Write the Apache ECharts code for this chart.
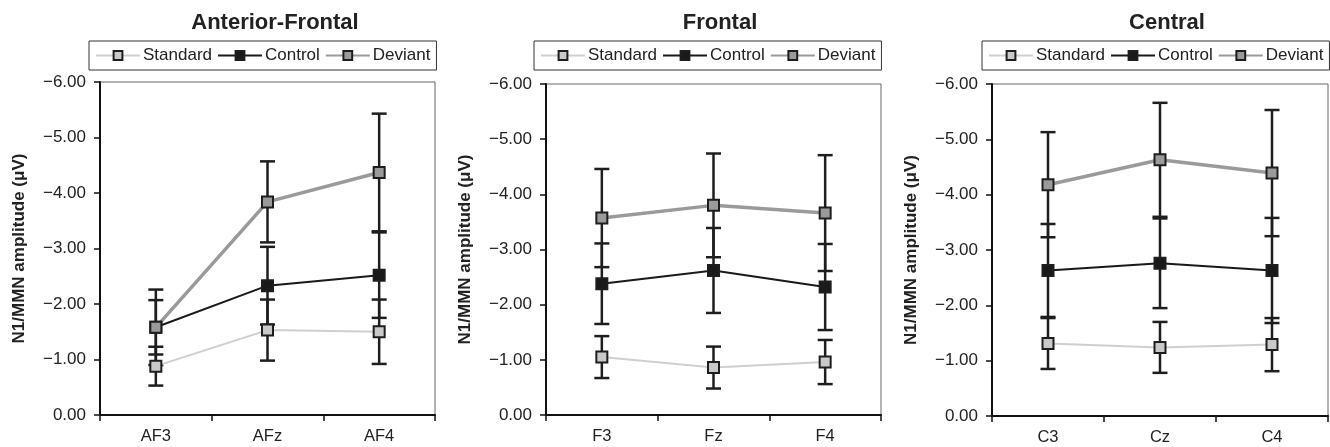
<!DOCTYPE html>
<html>
<head>
<meta charset="utf-8">
<script src="https://cdn.jsdelivr.net/npm/echarts@6/dist/echarts.min.js"></script>
<style>
  html, body { margin: 0; padding: 0; background: #fff; }
  #chart { width: 1330px; height: 447px; }
</style>
</head>
<body>
<div id="chart"></div>
<script>
const panelTitles = ['Anterior-Frontal', 'Frontal', 'Central']
const sites = [['AF3', 'AFz', 'AF4'], ['F3', 'Fz', 'F4'], ['C3', 'Cz', 'C4']]

const standardMean = [[-0.88, -1.53, -1.50], [-1.05, -0.86, -0.96], [-1.31, -1.24, -1.29]]
const standardErr  = [[0.35, 0.55, 0.58], [0.38, 0.38, 0.40], [0.46, 0.46, 0.48]]
const controlMean  = [[-1.58, -2.33, -2.52], [-2.38, -2.62, -2.32], [-2.63, -2.76, -2.63]]
const controlErr   = [[0.49, 0.70, 0.77], [0.73, 0.77, 0.78], [0.84, 0.81, 0.95]]
const deviantMean  = [[-1.58, -3.84, -4.37], [-3.57, -3.80, -3.66], [-4.18, -4.63, -4.39]]
const deviantErr   = [[0.68, 0.73, 1.06], [0.89, 0.94, 1.05], [0.95, 1.03, 1.14]]

const yMin = -6, yMax = 0, yStep = 1
const yName = 'N1/MMN amplitude (\u03bcV)'

const FONT = '"Liberation Sans", Arial, sans-serif'
const grids = [
  { left: 100, top: 82, width: 335, height: 333 },
  { left: 546, top: 84, width: 335, height: 331 },
  { left: 992, top: 84, width: 336, height: 332 }
]
const legendPos = [{ left: 89 }, { left: 534 }, { left: 982 }]
const titleX = [270, 715, 1162]

const seriesStyle = {
  Standard: { line: '#cfcfcf', fill: '#c9c9c9', width: 2 },
  Control:  { line: '#1a1a1a', fill: '#1a1a1a', width: 2 },
  Deviant:  { line: '#9a9a9a', fill: '#9a9a9a', width: 3.5 }
}

function fmt(v) {
  return (v < 0 ? '\u2212' : '') + Math.abs(v).toFixed(2)
}

function renderErr(params, api) {
  const i = api.value(0)
  const lo = api.coord([i, api.value(1)])
  const hi = api.coord([i, api.value(2)])
  const w = 7.5
  const st = { stroke: '#1e1e1e', lineWidth: 2.5 }
  return {
    type: 'group',
    children: [
      { type: 'line', shape: { x1: lo[0], y1: lo[1], x2: hi[0], y2: hi[1] }, style: st },
      { type: 'line', shape: { x1: lo[0] - w, y1: lo[1], x2: lo[0] + w, y2: lo[1] }, style: st },
      { type: 'line', shape: { x1: hi[0] - w, y1: hi[1], x2: hi[0] + w, y2: hi[1] }, style: st }
    ]
  }
}

const chart = echarts.init(document.getElementById('chart'))

const title = [], grid = [], xAxis = [], yAxis = [], legend = [], series = []

panelTitles.forEach((name, p) => {
  title.push({
    text: name, left: titleX[p], top: 7, textAlign: 'center',
    textStyle: { fontFamily: FONT, fontWeight: 'bold', fontSize: 22, color: '#222' }
  })
  grid.push(Object.assign({ show: true, borderColor: '#666', borderWidth: 1, backgroundColor: 'transparent' }, grids[p]))
  xAxis.push({
    type: 'category', gridIndex: p, data: sites[p], boundaryGap: true,
    axisLine: { lineStyle: { color: '#111', width: 2 } },
    axisTick: { show: true, length: 6, lineStyle: { color: '#111', width: 1.5 } },
    axisLabel: { color: '#222', fontFamily: FONT, fontSize: 16.5, margin: 13 },
    splitLine: { show: false }
  })
  yAxis.push({
    type: 'value', gridIndex: p, min: yMin, max: yMax, interval: yStep, inverse: true,
    name: yName, nameLocation: 'middle', nameGap: 72, nameRotate: 90,
    nameTextStyle: { fontFamily: FONT, fontWeight: 'bold', fontSize: 17, color: '#222' },
    axisLine: { show: true, lineStyle: { color: '#111', width: 2 } },
    axisTick: { show: true, length: 6, lineStyle: { color: '#111', width: 1.5 } },
    axisLabel: { color: '#222', fontFamily: FONT, fontSize: 17, margin: 14, formatter: fmt },
    splitLine: { show: false }
  })
  legend.push(Object.assign({
    top: 41, orient: 'horizontal', selectedMode: false,
    data: ['Standard', 'Control', 'Deviant'],
    itemWidth: 44, itemHeight: 11, itemGap: 5,
    borderColor: '#333', borderWidth: 1, borderRadius: 0, padding: [6, 6],
    textStyle: { fontFamily: FONT, fontSize: 17, color: '#222', padding: [0, 0, 0, -2] }
  }, legendPos[p]))

  const groups = [
    ['Standard', standardMean[p], standardErr[p]],
    ['Control', controlMean[p], controlErr[p]],
    ['Deviant', deviantMean[p], deviantErr[p]]
  ]
  groups.forEach(([sname, mean, err]) => {
    series.push({
      type: 'custom', name: sname + ' err', xAxisIndex: p, yAxisIndex: p, z: 1,
      renderItem: renderErr, silent: true,
      encode: { x: 0, y: [1, 2] },
      data: mean.map((m, i) => [i, m + err[i], m - err[i]])
    })
  })
  groups.forEach(([sname, mean]) => {
    const s = seriesStyle[sname]
    series.push({
      type: 'line', name: sname, xAxisIndex: p, yAxisIndex: p, z: 3,
      data: mean, symbol: 'rect', symbolSize: 11, showSymbol: true,
      lineStyle: { color: s.line, width: s.width },
      itemStyle: { color: s.fill, borderColor: '#1e1e1e', borderWidth: 2 },
      emphasis: { disabled: true }, animation: false
    })
  })
})

chart.setOption({
  backgroundColor: '#fff',
  animation: false,
  title, grid, xAxis, yAxis, legend, series
})
window.addEventListener('resize', () => chart.resize())
</script>
</body>
</html>
